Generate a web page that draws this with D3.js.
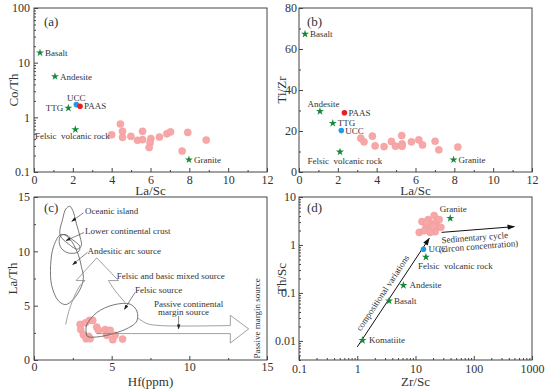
<!DOCTYPE html>
<html>
<head>
<meta charset="utf-8">
<script src="https://cdn.jsdelivr.net/npm/d3@7"></script>
<style>
  body { margin: 0; background: #fff; }
  svg text { font-family: "Liberation Serif", "DejaVu Serif", serif !important; fill: #333; }
</style>
</head>
<body>
<svg id="chart" width="550" height="391"></svg>
<script>
// ---- data ----
// (a) La/Sc vs Co/Th
const aLaSc = [4.45, 4.0, 4.56, 4.56, 4.99, 5.33, 5.59, 5.59, 6.02, 5.98, 5.93, 6.46, 6.84, 7.03, 7.92, 7.63, 8.87];
const aCoTh = [0.755, 0.48, 0.555, 0.43, 0.45, 0.38, 0.39, 0.555, 0.41, 0.344, 0.28, 0.437, 0.50, 0.54, 0.53, 0.242, 0.385];
const aRefNames = ["Basalt", "Andesite", "TTG", "Felsic  volcanic rock", "Granite"];
const aRefLaSc = [0.31, 1.08, 1.77, 2.13, 7.98];
const aRefCoTh = [15.2, 5.6, 1.48, 0.60, 0.168];
const aUCC = [2.18, 1.71];
const aPAAS = [2.37, 1.59];

// (b) La/Sc vs Ti/Zr
const bLaSc = [3.18, 3.35, 3.78, 3.92, 4.38, 4.76, 4.97, 5.29, 5.31, 5.31, 5.79, 6.17, 6.36, 7.01, 7.20, 8.18];
const bTiZr = [16.5, 14.7, 17.5, 12.7, 12.4, 14.9, 12.6, 17.8, 13.7, 12.6, 14.7, 15.7, 13.2, 15.0, 10.8, 12.2];
const bRefNames = ["Basalt", "Andesite", "TTG", "Felsic  volcanic rock", "Granite"];
const bRefLaSc = [0.31, 1.08, 1.74, 2.11, 7.96];
const bRefTiZr = [67.3, 29.6, 23.8, 9.8, 6.0];
const bUCC = [2.18, 20.2];
const bPAAS = [2.34, 28.9];

// (c) Hf vs La/Th
const cHf = [2.97, 3.01, 3.31, 3.57, 3.78, 3.18, 3.52, 3.35, 3.61, 4.04, 4.15, 4.58, 4.90, 4.69, 5.22, 5.07, 5.70];
const cLaTh = [3.27, 2.80, 3.42, 3.64, 3.64, 2.33, 2.18, 1.96, 1.96, 3.02, 2.74, 2.80, 2.74, 2.27, 2.27, 1.87, 1.93];
// source field outlines [Hf, La/Th]
const oceanicIsland = [[1.68, 11.5], [1.85, 13.0], [2.05, 13.9], [2.3, 14.15], [2.5, 13.75], [2.72, 12.6], [2.97, 11.3], [3.05, 10.55], [2.8, 10.2], [2.2, 10.7]];
const lowerCrust = [[1.7, 11.4], [2.0, 11.55], [2.45, 11.1], [2.95, 10.45], [2.85, 9.95], [2.2, 9.85], [1.75, 10.3], [1.62, 10.9]];
const andesiticArc = [[1.68, 11.5], [1.25, 10.4], [1.07, 8.7], [1.14, 6.85], [1.57, 5.45], [2.04, 5.1], [2.54, 5.6], [3.03, 6.7], [3.18, 7.6], [3.05, 8.6], [2.86, 9.65], [2.43, 10.9], [2.0, 11.5]];
const mixedLeftStem = [[2.04, 3.27], [2.28, 4.67], [2.64, 5.98], [2.97, 6.85], [3.29, 7.31]];
const mixedHead = [[3.29, 7.31], [2.71, 7.31], [4.04, 9.40], [5.44, 7.31], [4.79, 7.31]];
const mixedRightStem = [[4.79, 7.31], [5.22, 6.38], [5.87, 5.29]];
const felsicSource = [[3.40, 3.27], [4.04, 4.36], [5.11, 5.07], [6.19, 5.14], [6.62, 4.51], [6.62, 3.58], [6.08, 2.96], [5.11, 2.43], [4.04, 2.12], [3.44, 2.18], [3.35, 2.80]];
const passiveTop = [[6.66, 3.89], [7.26, 3.36], [8.12, 3.17], [12.64, 3.17]];
const passiveHead = [[12.64, 3.17], [12.64, 4.11], [13.82, 2.86], [12.64, 1.56], [12.64, 2.43], [4.04, 2.43]];
const cFieldLabels = ["Oceanic island", "Lower continental crust", "Andesitic arc source", "Felsic and basic mixed source", "Felsic source", "Passive continental", "margin source"];
const cFieldLabelPos = [[3.29, 13.76], [3.29, 11.92], [3.44, 10.08], [5.33, 7.72], [6.51, 6.47], [9.95, 5.2], [9.63, 4.4]];
const cPointers = [[[3.18, 13.54], [2.43, 12.76]], [[3.22, 11.73], [2.06, 10.99]], [[3.44, 9.90], [2.49, 8.78]], [[6.51, 6.22], [5.82, 4.67]], [[9.31, 4.05], [9.31, 2.86]]];

// (d) Zr/Sc vs Th/Sc
const dZrSc = [11.6, 12.9, 15.1, 16.5, 18.4, 16.7, 19.6, 20.9, 22.4, 23.9, 25.5, 21.8, 14.1, 17.9, 27.3, 15.7, 20.4];
const dThSc = [1.83, 3.07, 2.53, 3.38, 2.74, 2.15, 1.98, 4.10, 2.97, 2.45, 3.38, 1.89, 1.98, 1.83, 2.33, 2.97, 2.45];
const dRefNames = ["Granite", "Felsic  volcanic rock", "Andesite", "Basalt", "Komatiite"];
const dRefZrSc = [39.5, 15.1, 6.2, 3.52, 1.23];
const dRefThSc = [3.6, 0.56, 0.144, 0.0686, 0.0103];
const dUCC = [13.7, 0.815];
const dCompArrow = [[1.0, 0.0075], [17.2, 1.37]];
const dSedArrow = [[28, 1.83], [497, 2.41]];

// ---- drawing ----
const serif = '"Liberation Serif", "DejaVu Serif", serif';
const svg = d3.select("#chart").style("font-family", serif);
const green = "#16883a", pink = "#f7a7a7", blue = "#1e9be6", red = "#ec1c24", frameCol = "#444";

const defs = svg.append("defs");
defs.append("marker").attr("id", "head").attr("viewBox", "0 -4 10 8")
  .attr("refX", 9).attr("refY", 0).attr("markerWidth", 8).attr("markerHeight", 6)
  .attr("markerUnits", "userSpaceOnUse").attr("orient", "auto")
  .append("path").attr("d", "M0,-3.5L10,0L0,3.5Z").attr("fill", "#111");
defs.append("marker").attr("id", "smallhead").attr("viewBox", "0 -4 10 8")
  .attr("refX", 9).attr("refY", 0).attr("markerWidth", 5).attr("markerHeight", 4)
  .attr("markerUnits", "userSpaceOnUse").attr("orient", "auto")
  .append("path").attr("d", "M0,-3.5L10,0L0,3.5Z").attr("fill", "#222");

function drawFrame(box, x, y, o) {
  const g = svg.append("g");
  g.append("rect").attr("x", box.x0).attr("y", box.y0)
    .attr("width", box.x1 - box.x0).attr("height", box.y1 - box.y0)
    .attr("fill", "none").attr("stroke", frameCol).attr("stroke-width", 1);

  const bx = g.append("g").attr("transform", `translate(0,${box.y1})`);
  bx.call(d3.axisBottom(x).tickValues(o.xMinor).tickSize(-2).tickFormat(""));
  bx.append("g").call(d3.axisBottom(x).tickValues(o.xTicks).tickSize(-4).tickPadding(o.xPad).tickFormat(d => d));
  const ly = g.append("g").attr("transform", `translate(${box.x0},0)`);
  ly.call(d3.axisLeft(y).tickValues(o.yMinor).tickSize(-2).tickFormat(""));
  ly.append("g").call(d3.axisLeft(y).tickValues(o.yTicks).tickSize(-4).tickPadding(o.yPad).tickFormat(d => d));

  g.selectAll(".domain").remove();
  g.selectAll("g").attr("font-family", null);
  g.selectAll(".tick line").attr("stroke", frameCol);
  g.selectAll(".tick text").attr("font-size", 12).attr("fill", "#333").style("font-family", serif);

  g.append("text").attr("x", (box.x0 + box.x1) / 2).attr("y", o.xTitleY)
    .attr("text-anchor", "middle").attr("font-size", 13).text(o.xTitle);
  g.append("text").attr("transform", `translate(${o.yTitleX},${(box.y0 + box.y1) / 2}) rotate(-90)`)
    .attr("text-anchor", "middle").attr("dy", "0.35em").attr("font-size", 13).text(o.yTitle);
  g.append("text").attr("x", box.x0 + o.tagDx).attr("y", box.y0 + o.tagDy)
    .attr("font-size", 13).text(o.tag);
  return g;
}

function dots(g, xs, ys, x, y) {
  g.selectAll(null).data(xs).enter().append("circle")
    .attr("cx", d => x(d)).attr("cy", (d, i) => y(ys[i]))
    .attr("r", 3.6).attr("fill", pink).attr("stroke", "#f19494").attr("stroke-width", 0.4);
}

function stars(g, names, xs, ys, x, y, offs) {
  const star = d3.symbol().type(d3.symbolStar).size(20);
  names.forEach((n, i) => {
    const px = x(xs[i]), py = y(ys[i]);
    g.append("path").attr("d", star).attr("transform", `translate(${px},${py})`).attr("fill", green);
    const o = offs[n];
    g.append("text").attr("x", px + o[0]).attr("y", py + o[1]).attr("dy", "0.35em")
      .attr("text-anchor", o[2]).attr("font-size", 9).style("white-space", "pre").text(n);
  });
}

function refDot(g, p, x, y, col, name, o) {
  g.append("circle").attr("cx", x(p[0])).attr("cy", y(p[1])).attr("r", 2.8).attr("fill", col);
  g.append("text").attr("x", x(p[0]) + o[0]).attr("y", y(p[1]) + o[1]).attr("dy", "0.35em")
    .attr("text-anchor", o[2]).attr("font-size", 9).text(name);
}

// panel (a)
{
  const box = { x0: 34, x1: 267, y0: 8, y1: 172 };
  const x = d3.scaleLinear().domain([0, 12]).range([box.x0, box.x1]);
  const y = d3.scaleLog().domain([0.1, 100]).range([box.y1, box.y0]);
  const minorLog = [];
  [0.1, 1, 10].forEach(b => { for (let k = 2; k <= 9; k++) minorLog.push(b * k); });
  const g = drawFrame(box, x, y, {
    xTicks: d3.range(0, 13, 2), xMinor: d3.range(1, 12, 2), yTicks: [0.1, 1, 10, 100], yMinor: minorLog,
    xPad: 3, yPad: 4, xTitle: "La/Sc", yTitle: "Co/Th", xTitleY: 195, yTitleX: 13, tag: "(a)", tagDx: 10, tagDy: 18
  });
  dots(g, aLaSc, aCoTh, x, y);
  stars(g, aRefNames, aRefLaSc, aRefCoTh, x, y, {
    "Basalt": [5, 0, "start"], "Andesite": [5, 0, "start"], "TTG": [-5, 0, "end"],
    "Felsic  volcanic rock": [-3, 6, "middle"], "Granite": [5, 0, "start"]
  });
  refDot(g, aUCC, x, y, blue, "UCC", [0, -7, "middle"]);
  refDot(g, aPAAS, x, y, red, "PAAS", [4, 0, "start"]);
}

// panel (b)
{
  const box = { x0: 299, x1: 532, y0: 8, y1: 172 };
  const x = d3.scaleLinear().domain([0, 12]).range([box.x0, box.x1]);
  const y = d3.scaleLinear().domain([0, 80]).range([box.y1, box.y0]);
  const g = drawFrame(box, x, y, {
    xTicks: d3.range(0, 13, 2), xMinor: d3.range(1, 12, 2), yTicks: d3.range(0, 81, 20), yMinor: d3.range(10, 80, 20),
    xPad: 3, yPad: 2, xTitle: "La/Sc", yTitle: "Ti/Zr", xTitleY: 195, yTitleX: 281, tag: "(b)", tagDx: 8, tagDy: 18
  });
  dots(g, bLaSc, bTiZr, x, y);
  stars(g, bRefNames, bRefLaSc, bRefTiZr, x, y, {
    "Basalt": [5, 0, "start"], "Andesite": [3.5, -7, "middle"], "TTG": [5, 0, "start"],
    "Felsic  volcanic rock": [5, 9, "middle"], "Granite": [5, 0, "start"]
  });
  refDot(g, bUCC, x, y, blue, "UCC", [4, 0, "start"]);
  refDot(g, bPAAS, x, y, red, "PAAS", [4, 0, "start"]);
}

// panel (c)
{
  const box = { x0: 34, x1: 267, y0: 197, y1: 360 };
  const x = d3.scaleLinear().domain([0, 15]).range([box.x0, box.x1]);
  const y = d3.scaleLinear().domain([0, 15]).range([box.y1, box.y0]);
  const g = drawFrame(box, x, y, {
    xTicks: [0, 5, 10, 15], xMinor: [2.5, 7.5, 12.5], yTicks: [0, 5, 10, 15], yMinor: [2.5, 7.5, 12.5],
    xPad: 2, yPad: 4, xTitle: "Hf(ppm)", yTitle: "La/Th", xTitleY: 386, yTitleX: 12, tag: "(c)", tagDx: 10, tagDy: 15
  });
  const closed = d3.line().x(d => x(d[0])).y(d => y(d[1])).curve(d3.curveCatmullRomClosed);
  const smooth = d3.line().x(d => x(d[0])).y(d => y(d[1])).curve(d3.curveCatmullRom);
  const straight = d3.line().x(d => x(d[0])).y(d => y(d[1]));
  const shapeStyle = p => p.attr("fill", "none").attr("stroke", "#555").attr("stroke-width", 0.8);

  dots(g, cHf, cLaTh, x, y);
  [oceanicIsland, lowerCrust, andesiticArc, felsicSource].forEach(s => g.append("path").attr("d", closed(s)).call(shapeStyle));
  [mixedLeftStem, mixedRightStem, passiveTop].forEach(s => g.append("path").attr("d", smooth(s)).call(shapeStyle).attr("stroke", "#888"));
  [mixedHead, passiveHead].forEach(s => g.append("path").attr("d", straight(s)).call(shapeStyle).attr("stroke", "#888"));

  cPointers.forEach(p => g.append("line")
    .attr("x1", x(p[0][0])).attr("y1", y(p[0][1])).attr("x2", x(p[1][0])).attr("y2", y(p[1][1]))
    .attr("stroke", "#333").attr("stroke-width", 0.6).attr("marker-end", "url(#smallhead)"));

  cFieldLabels.forEach((t, i) => {
    const anchor = i >= 5 ? "middle" : "start";
    g.append("text").attr("x", x(cFieldLabelPos[i][0])).attr("y", y(cFieldLabelPos[i][1])).attr("dy", "0.35em")
      .attr("text-anchor", anchor).attr("font-size", 9).text(t);
  });
  g.append("text").attr("transform", `translate(${x(14.36)},${y(3.83)}) rotate(-90)`)
    .attr("text-anchor", "middle").attr("dy", "0.35em").attr("font-size", 9).text("Passive margin source");
}

// panel (d)
{
  const box = { x0: 299, x1: 532, y0: 197, y1: 360 };
  const x = d3.scaleLog().domain([0.1, 1000]).range([box.x0, box.x1]);
  const y = d3.scaleLog().domain([0.004, 10]).range([box.y1, box.y0]);
  const xMinor = [], yMinor = [];
  [0.1, 1, 10, 100].forEach(b => { for (let k = 2; k <= 9; k++) xMinor.push(b * k); });
  [0.001, 0.01, 0.1, 1].forEach(b => { for (let k = 2; k <= 9; k++) if (b * k >= 0.004 && b * k <= 10) yMinor.push(b * k); });
  const g = drawFrame(box, x, y, {
    xTicks: [0.1, 1, 10, 100, 1000], xMinor: xMinor, yTicks: [0.01, 0.1, 1, 10], yMinor: yMinor,
    xPad: 4, yPad: 3, xTitle: "Zr/Sc", yTitle: "Th/Sc", xTitleY: 386, yTitleX: 281, tag: "(d)", tagDx: 8, tagDy: 15
  });

  // arrows
  const ca = dCompArrow.map(p => [x(p[0]), y(p[1])]);
  g.append("line").attr("x1", ca[0][0]).attr("y1", ca[0][1]).attr("x2", ca[1][0]).attr("y2", ca[1][1])
    .attr("stroke", "#111").attr("stroke-width", 1).attr("marker-end", "url(#head)");
  const sa = dSedArrow.map(p => [x(p[0]), y(p[1])]);
  g.append("line").attr("x1", sa[0][0]).attr("y1", sa[0][1]).attr("x2", sa[1][0]).attr("y2", sa[1][1])
    .attr("stroke", "#111").attr("stroke-width", 1).attr("marker-end", "url(#head)");

  const angC = Math.atan2(ca[1][1] - ca[0][1], ca[1][0] - ca[0][0]) * 180 / Math.PI;
  const mx = (ca[0][0] + ca[1][0]) / 2 - 8, my = (ca[0][1] + ca[1][1]) / 2 + 2;
  g.append("text").attr("transform", `translate(${mx},${my}) rotate(${angC})`)
    .attr("text-anchor", "middle").attr("font-size", 9).text("compositional variations");

  const angS = Math.atan2(sa[1][1] - sa[0][1], sa[1][0] - sa[0][0]) * 180 / Math.PI;
  const sx = (sa[0][0] + sa[1][0]) / 2 - 3, sy = (sa[0][1] + sa[1][1]) / 2 + 11;
  const st = g.append("text").attr("transform", `translate(${sx},${sy}) rotate(${angS})`)
    .attr("text-anchor", "middle").attr("font-size", 9);
  st.append("tspan").attr("x", 0).attr("dy", 0).text("Sedimentary cycle");
  st.append("tspan").attr("x", 3).attr("dy", 9).text("(zircon concentration)");

  dots(g, dZrSc, dThSc, x, y);
  stars(g, dRefNames, dRefZrSc, dRefThSc, x, y, {
    "Granite": [3, -9, "middle"], "Felsic  volcanic rock": [-8, 9, "start"], "Andesite": [6, 0, "start"],
    "Basalt": [5, 0, "start"], "Komatiite": [6.5, 0, "start"]
  });
  refDot(g, dUCC, x, y, blue, "UCC", [5, 0, "start"]);
}
</script>
</body>
</html>
